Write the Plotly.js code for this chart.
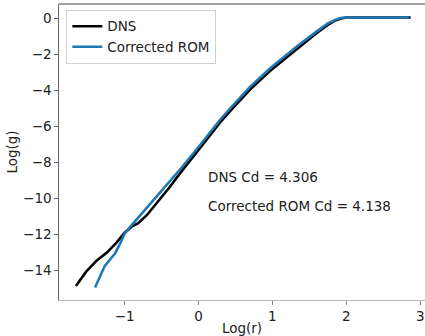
<!DOCTYPE html>
<html>
<head>
<meta charset="utf-8">
<script src="https://cdn.plot.ly/plotly-3.0.1.min.js"></script>
<style>html,body{margin:0;padding:0;background:#fff}#chart{width:425px;height:336px}</style>
</head>
<body>
<div id="chart"></div>
<script>
const dnsX = [-1.66,-1.52,-1.38,-1.24,-1.11,-1.0,-0.90,-0.82,-0.70,-0.54,-0.40,-0.23,0.0,0.29,0.43,0.56,0.70,0.97,1.33,1.60,1.75,1.85,1.93,2.0,2.2,2.5,2.87];
const dnsY = [-14.85,-14.06,-13.45,-13.0,-12.45,-11.9,-11.55,-11.38,-10.93,-10.15,-9.42,-8.5,-7.3,-5.8,-5.15,-4.55,-3.95,-2.92,-1.7,-0.83,-0.38,-0.13,-0.02,0.03,0.03,0.03,0.03];
const romX = [-1.40,-1.33,-1.27,-1.20,-1.13,-1.06,-1.0,-0.93,-0.75,-0.52,-0.23,0.0,0.29,0.43,0.56,0.70,0.97,1.33,1.60,1.75,1.85,1.92,2.0,2.2,2.5,2.85];
const romY = [-14.94,-14.3,-13.75,-13.4,-13.05,-12.5,-11.95,-11.6,-10.75,-9.65,-8.3,-7.15,-5.65,-5.0,-4.4,-3.8,-2.78,-1.58,-0.74,-0.3,-0.1,0,0.03,0.03,0.03,0.03];
const seriesNames = ["DNS", "Corrected ROM"];
const noteTexts = ["DNS Cd = 4.306", "Corrected ROM Cd = 4.138"];
const xTicks = [-1, 0, 1, 2, 3];
const yTicks = [0, -2, -4, -6, -8, -10, -12, -14];

const font = {family: "DejaVu Sans", size: 13.5, color: "#222"};
const traces = [
  {x: dnsX, y: dnsY, name: seriesNames[0], mode: "lines", line: {color: "#000000", width: 2.6}},
  {x: romX, y: romY, name: seriesNames[1], mode: "lines", line: {color: "#1f77b4", width: 2.6}}
];
const layout = {
  width: 425, height: 336,
  margin: {l: 59, r: 0, t: 4, b: 36},
  paper_bgcolor: "#fff", plot_bgcolor: "#fff",
  font: font,
  showlegend: true,
  legend: {x: 0.02, y: 0.98, xanchor: "left", yanchor: "top", bgcolor: "#fff",
           bordercolor: "#d0d0d0", borderwidth: 1, font: font, tracegroupgap: 0},
  xaxis: {range: [-1.888, 3.065], tickvals: xTicks, showgrid: false, zeroline: false,
          showline: true, linecolor: "#bbbbbb", linewidth: 1.2, ticks: "outside", ticklen: 3.5,
          tickcolor: "#888", tickfont: font,
          title: {text: "Log(r)", font: font, standoff: 8}},
  yaxis: {range: [-15.63, 0.78], tickvals: yTicks, showgrid: false, zeroline: false,
          showline: true, linecolor: "#666", linewidth: 1.2, ticks: "outside", ticklen: 3.5,
          tickcolor: "#666", tickfont: font,
          title: {text: "Log(g)", font: font, standoff: 2}},
  shapes: [{type: "line", xref: "paper", yref: "paper", x0: 0, x1: 1, y0: 1, y1: 1,
            line: {color: "#444", width: 1.2}}],
  annotations: [
    {text: noteTexts[0], xref: "x", yref: "y", x: 0.1, y: -8.83, xanchor: "left", yanchor: "middle", showarrow: false, font: font},
    {text: noteTexts[1], xref: "x", yref: "y", x: 0.1, y: -10.44, xanchor: "left", yanchor: "middle", showarrow: false, font: font}
  ]
};
Plotly.newPlot("chart", traces, layout, {displayModeBar: false, staticPlot: true});
</script>
</body>
</html>
